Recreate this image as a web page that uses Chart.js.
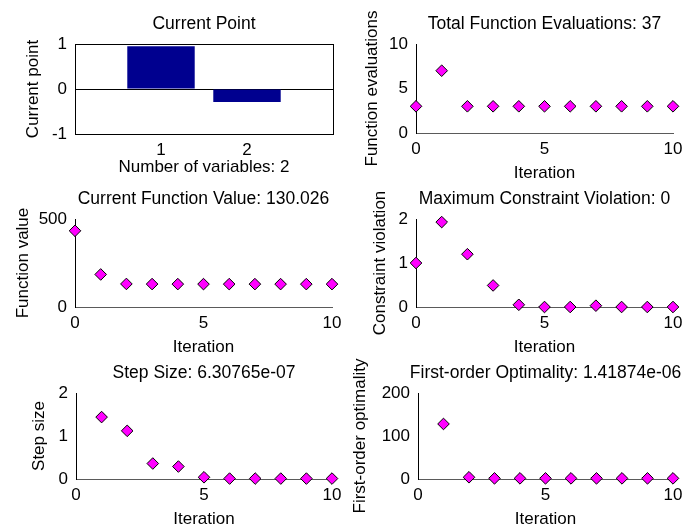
<!DOCTYPE html>
<html>
<head>
<meta charset="utf-8">
<script src="https://cdn.jsdelivr.net/npm/chart.js@4.4.1/dist/chart.umd.min.js"></script>
<style>
  body { margin: 0; background: #fff; }
  #fig { position: relative; width: 686px; height: 531px; overflow: hidden; background: #fff; }
  #fig canvas { position: absolute; }
</style>
</head>
<body>
<div id="fig">
  <canvas id="pointChart"></canvas>
  <canvas id="evalChart"></canvas>
  <canvas id="fvalChart"></canvas>
  <canvas id="violChart"></canvas>
  <canvas id="stepChart"></canvas>
  <canvas id="optChart"></canvas>
</div>
<script>
// ---------------- Data ----------------
const varIndex = [1, 2];
const currentPoint = [0.95, -0.29];

const iterations = [0, 1, 2, 3, 4, 5, 6, 7, 8, 9, 10];
const funcEvals = [3, 7, 3, 3, 3, 3, 3, 3, 3, 3, 3];
const funcValues = [433, 185, 131, 130.3, 130.1, 130.04, 130.03, 130.026, 130.026, 130.026, 130.026];
const constrViolation = [1.0, 1.93, 1.2, 0.49, 0.05, 0, 0, 0.03, 0, 0, 0];

const stepIters = [1, 2, 3, 4, 5, 6, 7, 8, 9, 10];
const stepSizes = [1.44, 1.12, 0.36, 0.29, 0.04, 0.01, 0.01, 0.01, 0.01, 0.01];
const optimality = [128, 4, 1.5, 1.5, 1.5, 1.5, 1.5, 1.5, 1.5, 1.5];

// tick labels
const barXTicks = [1, 2];
const barYTicks = [-1, 0, 1];
const iterTicks = [0, 5, 10];
const evalTicks = [0, 5, 10];
const fvalTicks = [0, 500];
const violTicks = [0, 1, 2];
const stepTicks = [0, 1, 2];
const optTicks = [0, 100, 200];

// ---------------- Helpers ----------------
const FONT = { family: "'Liberation Sans', Arial, Helvetica, sans-serif", size: 17 };
Chart.defaults.color = "#000";
Chart.defaults.font = FONT;

function fixedTicks(arr) {
  return scale => { scale.ticks = arr.map(v => ({ value: v })); };
}

// place a canvas so the plot area lands on the given box (page px).
// a right-hand spacer as wide as the left axis keeps the title centred on the plot
function placeCanvas(canvas, g) {
  const colLeft = g.left < 343 ? 0 : 343;
  const yWidth = g.left - colLeft;
  const padRight = 10;
  const w = g.right + yWidth + padRight - colLeft;
  const top = g.top - 40;
  const h = 40 + (g.bottom - g.top) + 52;
  canvas.width = w;
  canvas.height = h;
  canvas.style.left = colLeft + "px";
  canvas.style.top = top + "px";
  canvas.style.width = w + "px";
  canvas.style.height = h + "px";
  return { yWidth, padRight };
}

function baseOptions(title, lay) {
  return {
    responsive: false,
    animation: false,
    events: [],
    devicePixelRatio: 1,
    layout: { padding: { left: 0, right: lay.padRight, top: 0, bottom: 0 }, autoPadding: false },
    plugins: {
      legend: { display: false },
      tooltip: { enabled: false },
      title: {
        display: true,
        text: title,
        color: "#000",
        font: { ...FONT, size: 17.5, weight: "normal" },
        padding: { top: 10, bottom: 9 }
      }
    }
  };
}

function rightSpacer(lay, withBorder, min, max) {
  return {
    position: "right", min: min, max: max,
    afterFit: s => { s.width = lay.yWidth; },
    grid: { display: false, drawTicks: false },
    border: { display: withBorder, color: "#000", width: 1 },
    ticks: { display: false }
  };
}

// ---------------- Current Point (bar) ----------------
function renderCurrentPoint() {
  const canvas = document.getElementById("pointChart");
  const lay = placeCanvas(canvas, { left: 75, right: 333, top: 44, bottom: 134 });
  const opts = baseOptions("Current Point", lay);

  opts.scales = {
    x: {
      type: "linear", min: 0, max: 3, offset: false,
      afterBuildTicks: fixedTicks(barXTicks),
      afterFit: s => { s.height = 52; },
      grid: { display: false, offset: false, drawTicks: false },
      border: { display: true, color: "#000", width: 1 },
      ticks: { padding: 6, color: "#000" },
      title: { display: true, text: "Number of variables: " + varIndex.length, color: "#000", padding: { top: 0, bottom: 8.8 } }
    },
    xTop: {
      type: "linear", position: "top", min: 0, max: 3,
      afterFit: s => { s.height = 0; },
      grid: { display: false, drawTicks: false },
      border: { display: true, color: "#000", width: 1 },
      ticks: { display: false }
    },
    y: {
      min: -1, max: 1,
      afterBuildTicks: fixedTicks(barYTicks),
      afterFit: s => { s.width = lay.yWidth; },
      grid: {
        drawTicks: false,
        color: ctx => (ctx.tick && ctx.tick.value === 0 ? "#000" : "rgba(0,0,0,0)")
      },
      border: { display: true, color: "#000", width: 1 },
      ticks: { padding: 8, color: "#000" },
      title: { display: true, text: "Current point", color: "#000", padding: { top: 33 - 10.2, bottom: 0 } }
    },
    yRight: rightSpacer(lay, true, -1, 1)
  };

  new Chart(canvas, {
    type: "bar",
    data: {
      datasets: [{
        data: varIndex.map((v, i) => ({ x: v, y: currentPoint[i] })),
        backgroundColor: "#00008f",
        borderWidth: 0,
        categoryPercentage: 0.8,
        barPercentage: 0.98
      }]
    },
    options: opts
  });
}

// ---------------- Iteration scatter plots ----------------
function renderIterPlot(id, geo, title, yLabel, xs, ys, yTicks, labelCenter) {
  const canvas = document.getElementById(id);
  const lay = placeCanvas(canvas, geo);
  const opts = baseOptions(title, lay);
  const yMin = yTicks[0], yMax = yTicks[yTicks.length - 1];

  opts.scales = {
    x: {
      type: "linear", min: 0, max: 10,
      afterBuildTicks: fixedTicks(iterTicks),
      afterFit: s => { s.height = 52; },
      grid: { display: false, drawTicks: false },
      border: { display: true, color: "#5a5a5a", width: 1 },
      ticks: { padding: 6, color: "#000" },
      title: { display: true, text: "Iteration", color: "#000", padding: { top: 0, bottom: 1 } }
    },
    y: {
      min: yMin, max: yMax,
      afterBuildTicks: fixedTicks(yTicks),
      afterFit: s => { s.width = lay.yWidth; },
      grid: { display: false, drawTicks: false },
      border: { display: true, color: "#000", width: 1 },
      ticks: { padding: 8, color: "#000" },
      title: { display: true, text: yLabel, color: "#000", padding: { top: labelCenter - 10.2, bottom: 0 } }
    },
    yRight: rightSpacer(lay, false, yMin, yMax)
  };

  new Chart(canvas, {
    type: "scatter",
    data: {
      datasets: [{
        data: xs.map((x, i) => ({ x: x, y: ys[i] })),
        pointStyle: "rectRot",
        pointRadius: 5.8,
        backgroundColor: "#ff00ff",
        borderColor: "#000",
        borderWidth: 1,
        clip: false
      }]
    },
    options: opts
  });
}

// ---------------- Render ----------------
renderCurrentPoint();

renderIterPlot("evalChart", { left: 416, right: 673, top: 44, bottom: 133 },
  "Total Function Evaluations: 37", "Function evaluations",
  iterations, funcEvals, evalTicks, 29);

renderIterPlot("fvalChart", { left: 75, right: 332, top: 219, bottom: 307 },
  "Current Function Value: 130.026", "Function value",
  iterations, funcValues, fvalTicks, 23);

renderIterPlot("violChart", { left: 416, right: 673, top: 219, bottom: 307 },
  "Maximum Constraint Violation: 0", "Constraint violation",
  iterations, constrViolation, violTicks, 37.5);

renderIterPlot("stepChart", { left: 76, right: 332, top: 393, bottom: 479 },
  "Step Size: 6.30765e-07", "Step size",
  stepIters, stepSizes, stepTicks, 39.5);

renderIterPlot("optChart", { left: 418, right: 673, top: 393, bottom: 479 },
  "First-order Optimality: 1.41874e-06", "First-order optimality",
  stepIters, optimality, optTicks, 17.5);
</script>
</body>
</html>
